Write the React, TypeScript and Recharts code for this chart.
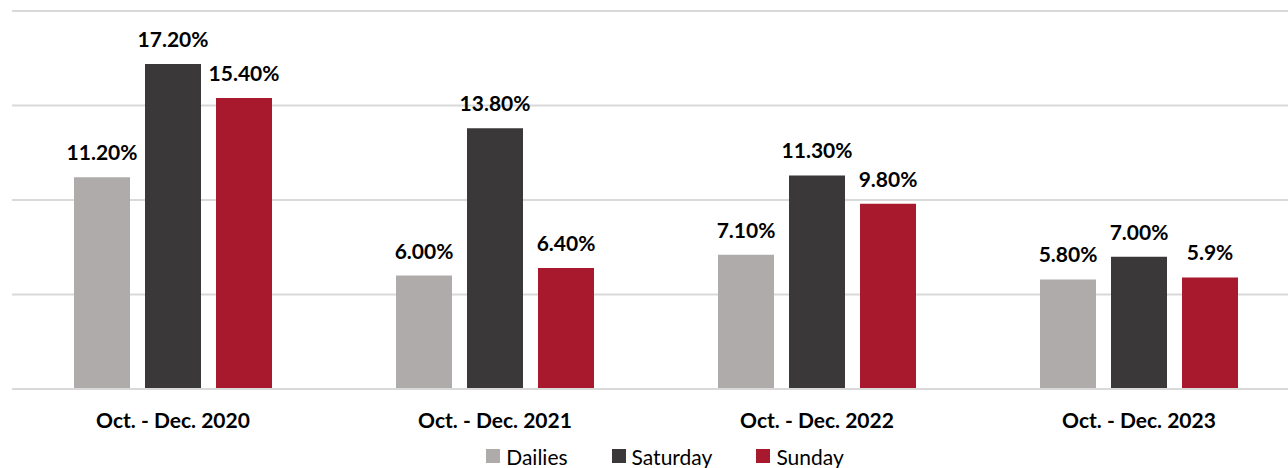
import React from 'react';
import { BarChart, Bar, XAxis, YAxis, CartesianGrid, LabelList, Legend } from 'recharts';

const categories = ['Oct. - Dec. 2020', 'Oct. - Dec. 2021', 'Oct. - Dec. 2022', 'Oct. - Dec. 2023'];
const dailies = [11.2, 6.0, 7.1, 5.8];
const saturday = [17.2, 13.8, 11.3, 7.0];
const sunday = [15.4, 6.4, 9.8, 5.9];
const dailiesLabels = ['11.20%', '6.00%', '7.10%', '5.80%'];
const saturdayLabels = ['17.20%', '13.80%', '11.30%', '7.00%'];
const sundayLabels = ['15.40%', '6.40%', '9.80%', '5.9%'];
const yTicks = [0, 5, 10, 15, 20];

const series = [
  { key: 'dailies', name: 'Dailies', color: '#AFABAB', label: 'dailiesLabel' },
  { key: 'saturday', name: 'Saturday', color: '#3A3838', label: 'saturdayLabel' },
  { key: 'sunday', name: 'Sunday', color: '#A8192E', label: 'sundayLabel' },
];

const data = categories.map((c, i) => ({
  name: c,
  dailies: dailies[i],
  saturday: saturday[i],
  sunday: sunday[i],
  dailiesLabel: dailiesLabels[i],
  saturdayLabel: saturdayLabels[i],
  sundayLabel: sundayLabels[i],
}));

const FONT = 'Lato, "Noto Sans", sans-serif';

const LegendContent = () => (
  <div style={{ display: 'flex', justifyContent: 'center', height: 24, alignItems: 'center', paddingLeft: 18, fontFamily: FONT, fontSize: 21, color: '#000' }}>
    {series.map((s, i) => (
      <div key={s.key} style={{ display: 'flex', alignItems: 'center', marginLeft: i === 0 ? 0 : 44 }}>
        <div style={{ width: 14, height: 14, background: s.color, marginRight: 6 }} />
        <span>{s.name}</span>
      </div>
    ))}
  </div>
);

export default function App() {
  return (
    <div style={{ position: 'absolute', left: 0, top: 0, width: 1288, height: 468, overflow: 'hidden', background: '#fff' }}>
      <BarChart
        width={1300}
        height={468}
        data={data}
        margin={{ top: 11, right: 0, left: 12, bottom: 0 }}
        barSize={56}
        barGap={15}
      >
        <CartesianGrid vertical={false} stroke="#D9D9D9" strokeWidth={2} />
        <XAxis
          dataKey="name"
          height={55}
          tickLine={false}
          axisLine={{ stroke: '#D9D9D9', strokeWidth: 2 }}
          tick={{ fill: '#000', fontFamily: FONT, fontSize: 21, fontWeight: 700 }}
          dy={16}
        />
        <YAxis hide domain={[0, 20]} ticks={yTicks} />
        <Legend verticalAlign="bottom" height={24} content={<LegendContent />} />
        {series.map((s) => (
          <Bar key={s.key} dataKey={s.key} name={s.name} fill={s.color} isAnimationActive={false}>
            <LabelList
              dataKey={s.label}
              position="top"
              offset={17}
              style={{ fill: '#000', fontFamily: FONT, fontSize: 21, fontWeight: 700 }}
            />
          </Bar>
        ))}
      </BarChart>
    </div>
  );
}
